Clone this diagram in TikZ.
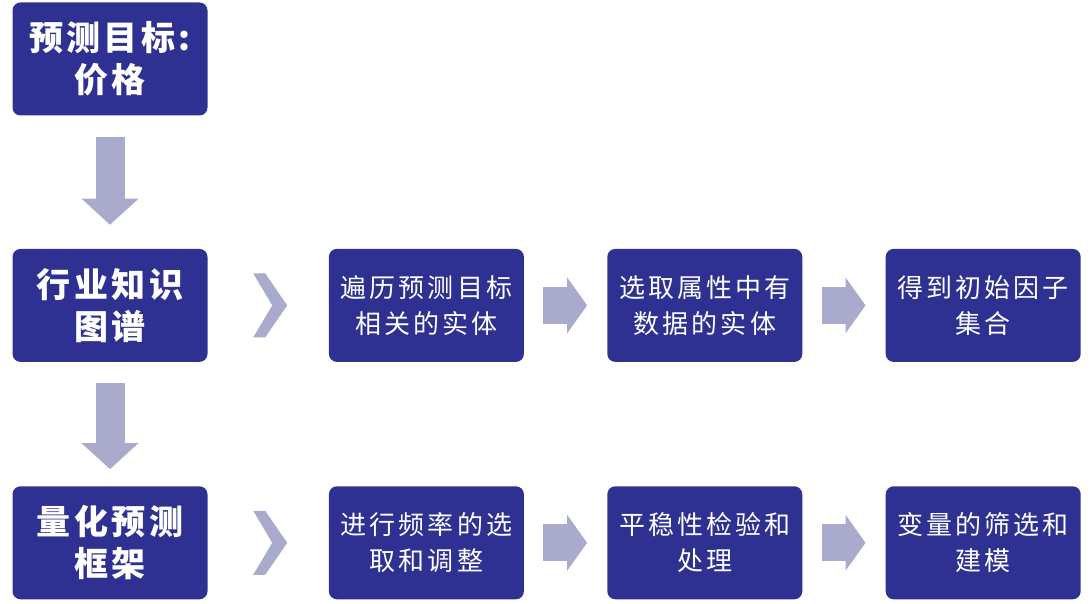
\documentclass[tikz,border=0pt]{standalone}
\usepackage{fontspec}
\newfontfamily\cjk{Noto Sans CJK SC}[LetterSpace=12]
\newfontfamily\cjkhead{Noto Sans CJK SC}[LetterSpace=10]
\usetikzlibrary{positioning, calc, arrows.meta}
\definecolor{boxblue}{RGB}{46,49,146}
\definecolor{arrowgray}{RGB}{169,170,204}

\begin{document}
\begin{tikzpicture}[x=1pt, y=1pt,
box/.style={rectangle, rounded corners=8pt, fill=boxblue, text=white, minimum width=195pt, minimum height=113pt, inner sep=0pt, align=center},
head/.style={box, font=\cjkhead\bfseries\fontsize{34}{42}\selectfont},
task/.style={box, font=\cjk\fontsize{26}{36}\selectfont},
down/.style={line width=29pt, color=arrowgray, -{Triangle[length=26pt, width=57pt, line width=0pt]}},
fwd/.style={line width=37pt, color=arrowgray, shorten <=19pt, shorten >=20pt, -{Triangle[length=20pt, width=56pt, line width=0pt]}}]
\useasboundingbox (0,0) rectangle (1092,603);
\node (P) [head] at (110,544) {预测目标:\\价格};
\node (K) [head, below = 133pt of P] {行业知识\\图谱};
\node (L) [head, below = 124pt of K] {量化预测\\框架};
% knowledge graph row
\node (K1) [task, right = 121pt of K] {遍历预测目标\\相关的实体};
\node (K2) [task, right = 83pt of K1] {选取属性中有\\数据的实体};
\node (K3) [task, right = 83pt of K2] {得到初始因子\\集合};
% model row
\node (L1) [task, right = 121pt of L] {进行频率的选\\取和调整};
\node (L2) [task, right = 83pt of L1] {平稳性检验和\\处理};
\node (L3) [task, right = 83pt of L2] {变量的筛选和\\建模};
\path (P) edge[down, shorten <=21pt, shorten >=24pt] (K);
\path (K) edge[down, shorten <=21pt, shorten >=17pt] (L);
\path (K1) edge[fwd] (K2) (K2) edge[fwd] (K3);
\path (L1) edge[fwd] (L2) (L2) edge[fwd] (L3);
% chevrons
\foreach \a/\b in {K/K1, L/L1}{
  \coordinate (c) at ($(\a.east)!0.5!(\b.west) + (2,0)$);
  \fill[arrowgray] ($(c)+(-17,32)$) -- ++(12,0) -- ++(22,-32) -- ++(-22,-32) -- ++(-12,0) -- ++(19,32) -- cycle;
}
\end{tikzpicture}
\end{document}
